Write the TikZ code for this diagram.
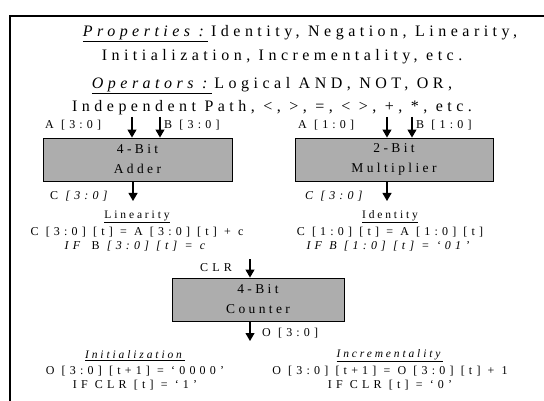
\documentclass[tikz,border=0pt]{standalone}
\usepackage{fontspec}
\setmainfont{Liberation Serif}
\newfontfamily\spc[LetterSpace=28]{Liberation Serif}
\newfontfamily\spb[LetterSpace=25]{Liberation Serif}
\newfontfamily\spd[LetterSpace=35]{Liberation Serif}
\usetikzlibrary{arrows.meta}
\newcommand{\wsp}{\hspace{0.6em}}
\begin{document}
\begin{tikzpicture}[x=1pt,y=-1pt,
  arr/.style={line width=1.1pt,-{Triangle[length=8pt,width=9pt]}},
  blk/.style={draw,line width=0.9pt,fill=black!32,minimum width=#1,minimum height=43pt,inner sep=0pt,
    align=center,font=\spb\fontsize{13.5}{20}\selectfont},
  hdr/.style={font=\spc\fontsize{16}{18}\selectfont,inner sep=0pt},
  sig/.style={font=\spd\fontsize{12}{13}\selectfont,inner sep=0pt},
  ttl/.style={font=\spb\fontsize{11.5}{13}\selectfont,inner sep=0pt},
  eq/.style={font=\spd\fontsize{12}{14}\selectfont,inner sep=0pt,align=center}]
\useasboundingbox (0,0) rectangle (544,401);
\draw[line width=1.2pt] (10,401) -- (10,16) -- (544,16);
% header
\node[hdr] (h1) at (300,34) {\underline{\textit{Properties :}}\,Identity, Negation, Linearity,};
\node[hdr] (h2) at (282,57) {Initialization, Incrementality, etc.};
\node[hdr] (h3) at (272,86) {\underline{\textit{Operators :}}\,Logical AND, NOT, OR,};
\node[hdr] (h4) at (272,108) {Independent Path, <, >, =, < >, +, *, etc.};
% adder
\node[blk=189pt] (adder) at (137.5,159.5) {4-Bit\\Adder};
\coordinate (a1) at (132,117);
\coordinate (a2) at (160,117);
\coordinate (a3) at (133,201);
\draw[arr] (a1) -- (a1 |- adder.north);
\draw[arr] (a2) -- (a2 |- adder.north);
\draw[arr] (a3 |- adder.south) -- (a3);
\node[sig,anchor=west] (la) at (45,125) {A [3:0]};
\node[sig,anchor=west] (lb) at (164,125) {B [3:0]};
\node[sig,anchor=west] (lc) at (50,196) {C \textit{[3:0]}};
\node[ttl] (lint) at (137,217) {\underline{Linearity}};
\node[eq] (lin) at (137,239) {C [3:0] [t]\wsp=\wsp A [3:0] [t]\wsp+\wsp c\\\textit{IF}\wsp B \textit{[3:0] [t]\wsp=\wsp c}};
% multiplier
\node[blk=198pt] (mult) at (394,159.5) {2-Bit\\Multiplier};
\coordinate (m1) at (387,117);
\coordinate (m2) at (412,117);
\coordinate (m3) at (387,201);
\draw[arr] (m1) -- (m1 |- mult.north);
\draw[arr] (m2) -- (m2 |- mult.north);
\draw[arr] (m3 |- mult.south) -- (m3);
\node[sig,anchor=west] (ma) at (298,125) {A [1:0]};
\node[sig,anchor=west] (mb) at (416,125) {B [1:0]};
\node[sig,anchor=west] (mc) at (305,196) {\textit{C [3:0]}};
\node[ttl] (identt) at (390,217) {\underline{Identity}};
\node[eq] (ident) at (390,239) {C [1:0] [t]\wsp=\wsp A [1:0] [t]\\\textit{IF\wsp B [1:0] [t]\wsp=\wsp ‘01’}};
% counter
\node[blk=172pt] (cnt) at (258,299.5) {4-Bit\\Counter};
\coordinate (k1) at (250,259);
\coordinate (k2) at (250,341);
\draw[arr] (k1) -- (k1 |- cnt.north);
\draw[arr] (k2 |- cnt.south) -- (k2);
\node[sig,anchor=east] (clr) at (232,268) {CLR};
\node[sig,anchor=west] (ko) at (262,333) {O [3:0]};
\node[ttl] (initt) at (135,356) {\underline{\textit{Initialization}}};
\node[eq] (init) at (135,378) {O [3:0] [t+1]\wsp=\wsp‘0000’\\IF CLR [t]\wsp=\wsp‘1’};
\node[ttl] (incrt) at (390,356) {\underline{\textit{Incrementality}}};
\node[eq] (incr) at (390,378) {O [3:0] [t+1]\wsp=\wsp O [3:0] [t]\wsp+\wsp 1\\IF CLR [t]\wsp=\wsp‘0’};
\end{tikzpicture}
\end{document}
